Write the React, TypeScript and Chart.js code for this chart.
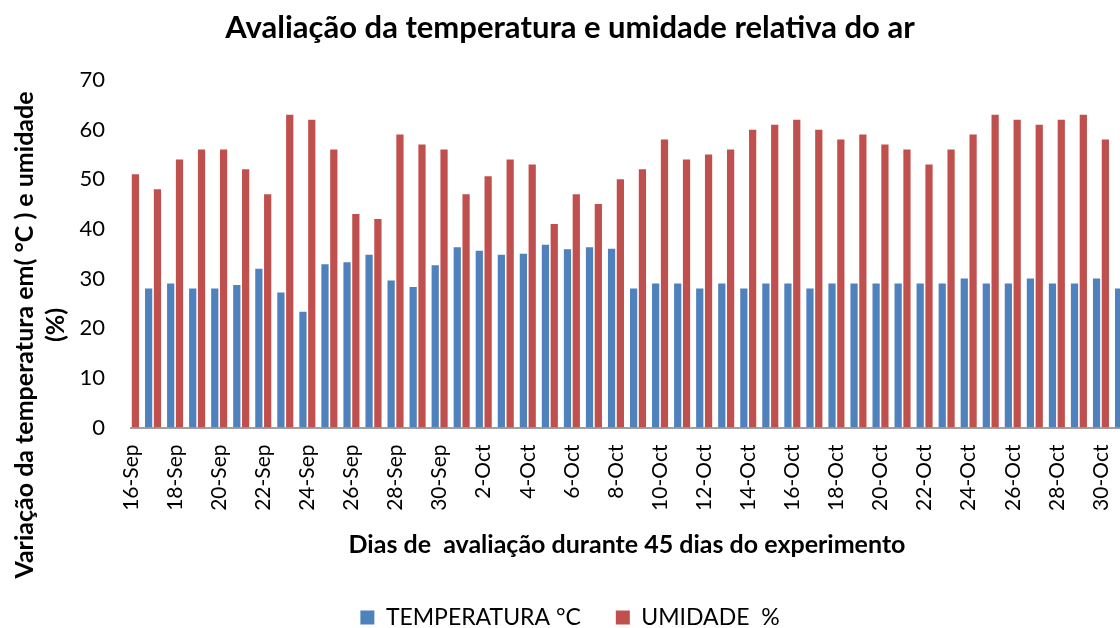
import React, { useEffect, useRef } from 'react';
import { Chart, registerables } from 'chart.js';

Chart.register(...registerables);

const categories: string[] = [
  '16-Sep', '17-Sep', '18-Sep', '19-Sep', '20-Sep', '21-Sep', '22-Sep', '23-Sep', '24-Sep', '25-Sep',
  '26-Sep', '27-Sep', '28-Sep', '29-Sep', '30-Sep',
  '1-Oct', '2-Oct', '3-Oct', '4-Oct', '5-Oct', '6-Oct', '7-Oct', '8-Oct', '9-Oct', '10-Oct',
  '11-Oct', '12-Oct', '13-Oct', '14-Oct', '15-Oct', '16-Oct', '17-Oct', '18-Oct', '19-Oct', '20-Oct',
  '21-Oct', '22-Oct', '23-Oct', '24-Oct', '25-Oct', '26-Oct', '27-Oct', '28-Oct', '29-Oct', '30-Oct',
  '31-Oct',
];

const temperatura: number[] = [
  27, 28, 29, 28, 28, 28.7, 32, 27.2, 23.3, 32.9,
  33.3, 34.8, 29.6, 28.3, 32.7,
  36.3, 35.6, 34.8, 35, 36.8, 35.9, 36.3, 36, 28, 29,
  29, 28, 29, 28, 29, 29, 28, 29, 29, 29,
  29, 29, 29, 30, 29, 29, 30, 29, 29, 30,
  28,
];

const umidade: (number | null)[] = [
  51, 48, 54, 56, 56, 52, 47, 63, 62, 56,
  43, 42, 59, 57, 56,
  47, 50.6, 54, 53, 41, 47, 45, 50, 52, 58,
  54, 55, 56, 60, 61, 62, 60, 58, 59, 57,
  56, 53, 56, 59, 63, 62, 61, 62, 63, 58,
  null,
];

const seriesNames = ['TEMPERATURA °C', 'UMIDADE  %'];
const chartTitle = 'Avaliação da temperatura e umidade relativa do ar';
const xAxisTitle = 'Dias de  avaliação durante 45 dias do experimento';
const yAxisTitleLines = ['Variação da temperatura em( °C ) e umidade', '(%)'];

const FONT = 'Lato, "Open Sans", sans-serif';

export default function App() {
  const ref = useRef<HTMLCanvasElement>(null);

  useEffect(() => {
    if (!ref.current) return;
    const yTitlePlugin = {
      id: 'yTitlePlugin',
      afterDraw(chart: any) {
        const ctx = chart.ctx as CanvasRenderingContext2D;
        ctx.save();
        ctx.font = `bold 25px ${FONT}`;
        ctx.fillStyle = '#000';
        ctx.textAlign = 'center';
        ctx.textBaseline = 'middle';
        const pos = [
          [25, 335],
          [56, 325],
        ];
        yAxisTitleLines.forEach((line, i) => {
          ctx.save();
          ctx.translate(pos[i][0], pos[i][1]);
          ctx.rotate(-Math.PI / 2);
          ctx.fillText(line, 0, 0);
          ctx.restore();
        });
        ctx.restore();
      },
    };

    const chart = new Chart(ref.current, {
      type: 'bar',
      data: {
        labels: categories,
        datasets: [
          {
            label: seriesNames[0],
            data: temperatura,
            backgroundColor: '#4F81BD',
            borderWidth: 0,
            categoryPercentage: 0.8,
            barPercentage: 0.82,
            clip: 0,
          } as any,
          {
            label: seriesNames[1],
            data: umidade,
            backgroundColor: '#C0504D',
            borderWidth: 0,
            categoryPercentage: 0.8,
            barPercentage: 0.82,
            clip: 0,
          } as any,
        ],
      },
      options: {
        responsive: false,
        animation: false,
        devicePixelRatio: 1,
        layout: { padding: { left: 17, right: 13, top: 0, bottom: -11 } },
        plugins: {
          title: {
            display: true,
            text: chartTitle,
            color: '#000',
            font: { family: FONT, size: 31, weight: 'bold' },
            padding: { top: 9.4, bottom: 33.4 },
          },
          legend: {
            position: 'bottom',
            labels: {
              color: '#000',
              font: { family: FONT, size: 23 },
              boxWidth: 14,
              boxHeight: 14,
              padding: 35,
            },
          },
          tooltip: { enabled: false },
        },
        scales: {
          x: {
            offset: false,
            grid: { display: false, drawTicks: false },
            border: { display: true, color: '#a0a0a0', width: 2 },
            ticks: {
              autoSkip: false,
              minRotation: 90,
              maxRotation: 90,
              padding: 17,
              color: '#000',
              font: { family: FONT, size: 21 },
              callback: (_v: any, i: number) => (i % 2 === 0 ? categories[i] : ''),
            },
            title: {
              display: true,
              text: xAxisTitle,
              color: '#000',
              font: { family: FONT, size: 25, weight: 'bold' },
              padding: { top: 0, bottom: 11 },
            },
            afterFit: (scale: any) => {
              scale.height = 143.5;
              scale.paddingLeft = 0;
              scale.paddingRight = 0;
            },
          },
          y: {
            min: 0,
            max: 70,
            grid: { display: false, drawTicks: false },
            border: { display: false },
            ticks: {
              stepSize: 10,
              padding: 26,
              color: '#000',
              font: { family: FONT, size: 22 },
            },
            afterFit: (scale: any) => {
              scale.width = 114;
              scale.paddingTop = 0;
              scale.paddingBottom = 0;
            },
          },
        },
      },
      plugins: [yTitlePlugin],
    } as any);

    return () => chart.destroy();
  }, []);

  return (
    <div
      style={{
        position: 'fixed',
        left: 0,
        top: 0,
        width: 1120,
        height: 628,
        overflow: 'hidden',
        background: '#fff',
      }}
    >
      <canvas ref={ref} width={1136} height={628} style={{ display: 'block', width: 1136, height: 628 }} />
    </div>
  );
}
